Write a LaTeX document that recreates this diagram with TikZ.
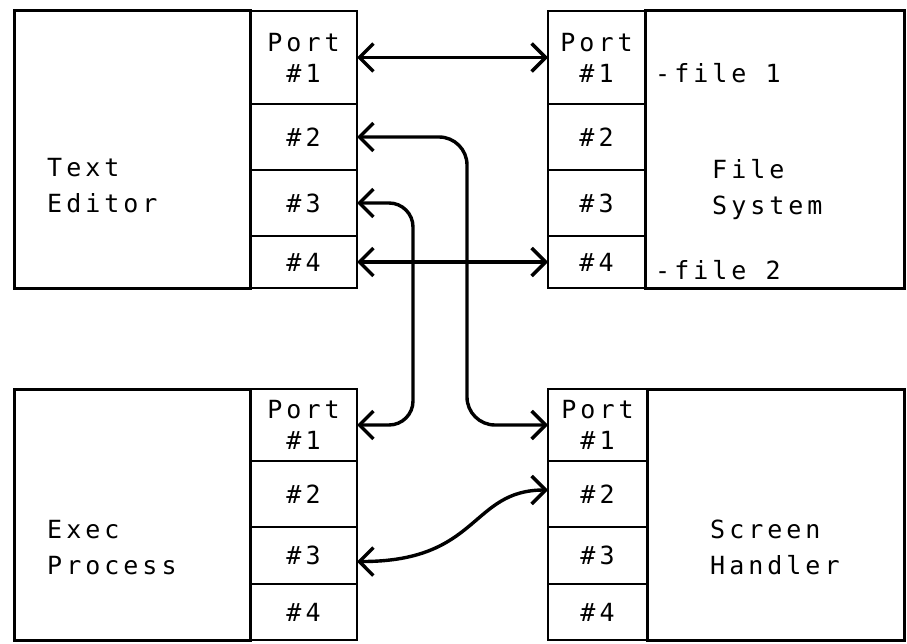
\documentclass[tikz,border=0pt]{standalone}
\usepackage{fontspec}
\newfontfamily\typew[LetterSpace=16]{DejaVu Sans Mono}
\usetikzlibrary{arrows.meta,positioning}

\begin{document}
\begin{tikzpicture}[x=1pt,y=-1pt,
  box/.style={line width=3pt},
  portcell/.style={draw,line width=2.6pt,minimum width=107pt,inner sep=0pt,outer sep=0pt,align=center,font=\typew\fontsize{25}{31}\selectfont},
  procname/.style={anchor=west,align=left,inner sep=0pt,font=\typew\fontsize{25}{36}\selectfont},
  conn/.style={line width=3.4pt,line cap=round,<->,>={Straight Barb[length=14pt,width=28pt]}}]
  \useasboundingbox (0,0) rectangle (907,644);
  % process boxes
  \draw[box] (14,11) rectangle (250,288);
  \draw[box] (645,11) rectangle (904,288);
  \draw[box] (14,389) rectangle (250,640);
  \draw[box] (647,389) rectangle (904,640);
  \node[procname] (tename) at (47,186) {Text\\Editor};
  \node[procname] (fsname) at (712,190) {File\\System};
  \node[procname] (epname) at (47,548) {Exec\\Process};
  \node[procname] (shname) at (710,547) {Screen\\Handler};
  \node[procname] (file1) at (655,73) {-file 1};
  \node[procname] (file2) at (655,270) {-file 2};
  % ports of the text editor
  \node[portcell,minimum height=93pt,anchor=north west] (te1) at (250,11) {Port\\\#1};
  \node[portcell,minimum height=66pt,below=0pt of te1] (te2) {\#2};
  \node[portcell,minimum height=66pt,below=0pt of te2] (te3) {\#3};
  \node[portcell,minimum height=52pt,below=0pt of te3] (te4) {\#4};
  % ports of the file system
  \node[portcell,minimum height=93pt,minimum width=97pt,anchor=north west] (fs1) at (548,11) {Port\\\#1};
  \node[portcell,minimum height=66pt,minimum width=97pt,below=0pt of fs1] (fs2) {\#2};
  \node[portcell,minimum height=66pt,minimum width=97pt,below=0pt of fs2] (fs3) {\#3};
  \node[portcell,minimum height=52pt,minimum width=97pt,below=0pt of fs3] (fs4) {\#4};
  % ports of the exec process
  \node[portcell,minimum height=72pt,anchor=north west] (ep1) at (250,389) {Port\\\#1};
  \node[portcell,minimum height=66pt,below=0pt of ep1] (ep2) {\#2};
  \node[portcell,minimum height=57pt,below=0pt of ep2] (ep3) {\#3};
  \node[portcell,minimum height=56pt,below=0pt of ep3] (ep4) {\#4};
  % ports of the screen handler
  \node[portcell,minimum height=72pt,minimum width=99pt,anchor=north west] (sh1) at (548,389) {Port\\\#1};
  \node[portcell,minimum height=66pt,minimum width=99pt,below=0pt of sh1] (sh2) {\#2};
  \node[portcell,minimum height=57pt,minimum width=99pt,below=0pt of sh2] (sh3) {\#3};
  \node[portcell,minimum height=56pt,minimum width=99pt,below=0pt of sh3] (sh4) {\#4};
  % connections
  \draw[conn] (te1.east) -- (fs1.west);
  \draw[conn] (te4.east) -- (fs4.west);
  \draw[conn,rounded corners=28pt] (te2.east) -| (467,300) |- (sh1.west);
  \draw[conn,rounded corners=24pt] (te3.east) -| (413,300) |- (ep1.east);
  \draw[conn] ([yshift=-6pt]ep3.east) .. controls (480,562) and (470,490) .. ([yshift=4pt]sh2.west);
\end{tikzpicture}
\end{document}
